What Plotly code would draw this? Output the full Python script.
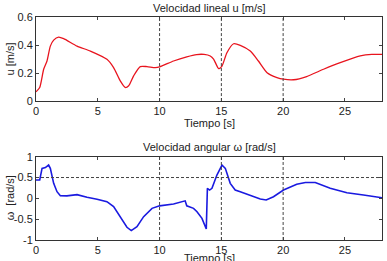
import plotly.graph_objects as go

# Linear velocity u [m/s]
t_u = [0, 0.3, 0.62, 0.89, 1.16, 1.43, 1.83, 2.24, 3.32, 4.4, 5.74, 6.28, 6.82, 7.22, 7.5, 7.9,
       8.44, 8.98, 9.65, 10.0, 11.13, 12.2, 13.0, 13.6, 14.1, 14.37, 14.78, 15.05, 15.45, 15.99,
       16.53, 17.34, 18.0, 18.7, 19.5, 20.03, 20.84, 21.9, 23.27, 24.62, 26.24, 27.18, 28.0]
u = [0.066, 0.097, 0.227, 0.286, 0.392, 0.435, 0.456, 0.445, 0.392, 0.357, 0.298, 0.239, 0.144,
     0.097, 0.109, 0.18, 0.246, 0.246, 0.239, 0.244, 0.286, 0.316, 0.332, 0.333, 0.322, 0.30,
     0.232, 0.25, 0.345, 0.409, 0.398, 0.357, 0.286, 0.203, 0.168, 0.156, 0.152, 0.175, 0.227,
     0.274, 0.322, 0.333, 0.333]

# Angular velocity w [rad/s]
t_w = [0, 0.3, 0.49, 0.76, 1.02, 1.16, 1.43, 1.7, 1.97, 2.5, 3.32, 4.13, 4.94, 5.74, 6.28, 6.82,
       7.36, 7.71, 8.17, 8.71, 9.39, 10.0, 11.13, 12.07, 12.2, 12.75, 13.03, 13.43, 13.78, 13.87,
       14.05, 14.24, 14.64, 15.05, 15.32, 15.72, 16.12, 16.53, 17.34, 18.15, 18.63, 19.22, 20.03,
       21.1, 21.8, 22.6, 23.81, 25.16, 26.5, 28.0]
w = [0.44, 0.44, 0.72, 0.74, 0.80, 0.72, 0.36, 0.16, 0.065, 0.06, 0.09, 0.025, -0.02, -0.08,
     -0.2, -0.455, -0.695, -0.775, -0.68, -0.44, -0.24, -0.18, -0.135, -0.06, -0.18, -0.24,
     -0.32, -0.48, -0.735, 0.24, 0.2, 0.24, 0.56, 0.80, 0.72, 0.36, 0.2, 0.16, 0.08, -0.015,
     -0.04, 0.04, 0.2, 0.34, 0.38, 0.38, 0.24, 0.135, 0.08, 0.015]

vlines = [10, 15, 20]
hline_w = 0.5

x_ticks = [0, 5, 10, 15, 20, 25]
u_ticks = [0, 0.2, 0.4, 0.6]
u_ticklabels = ["0", "0.2", "0.4", "0.6"]
w_ticks = [-1, -0.5, 0, 0.5, 1]
w_ticklabels = ["-1", "-0.5", "0", "0.5", "1"]

FONT = "Liberation Sans, Arial, sans-serif"

fig = go.Figure()
fig.add_trace(go.Scatter(x=t_u, y=u, mode="lines", line=dict(color="#e8141e", width=1.3,
                         shape="spline", smoothing=0.6), xaxis="x", yaxis="y", showlegend=False))
fig.add_trace(go.Scatter(x=t_w, y=w, mode="lines", line=dict(color="#1a1ae0", width=1.6),
                         xaxis="x2", yaxis="y2", showlegend=False))

axcommon = dict(showline=True, linecolor="#333", linewidth=1, mirror="allticks", ticks="inside",
                ticklen=3, tickcolor="#444", showgrid=False, zeroline=False,
                tickfont=dict(family=FONT, size=11, color="#222"))

DASH = dict(color="#444", width=1, dash="3px,2px")
shapes = []
for v in vlines:
    shapes.append(dict(type="line", xref="x", yref="y", x0=v, x1=v, y0=0, y1=0.6, line=DASH))
    shapes.append(dict(type="line", xref="x2", yref="y2", x0=v, x1=v, y0=-1, y1=1, line=DASH))
shapes.append(dict(type="line", xref="x2", yref="y2", x0=0, x1=28, y0=hline_w, y1=hline_w,
                   line=DASH))

def ann(text, x, y, rot=0):
    return dict(text=text, x=x, y=y, xref="paper", yref="paper", showarrow=False,
                textangle=rot, font=dict(family=FONT, size=11, color="#222"),
                xanchor="center", yanchor="middle")

fig.update_layout(
    width=387, height=261, margin=dict(l=36, r=5, t=17, b=21),
    paper_bgcolor="white", plot_bgcolor="white",
    xaxis=dict(domain=[0, 1], range=[0, 28], tickvals=x_ticks, anchor="y", **axcommon),
    yaxis=dict(domain=[0.623, 1.0], range=[0, 0.6], tickvals=u_ticks, ticktext=u_ticklabels,
               anchor="x", **axcommon),
    xaxis2=dict(domain=[0, 1], range=[0, 28], tickvals=x_ticks, anchor="y2", **axcommon),
    yaxis2=dict(domain=[0, 0.3735], range=[-1, 1], tickvals=w_ticks, ticktext=w_ticklabels,
                anchor="x2", **axcommon),
    shapes=shapes,
    annotations=[
        ann("Velocidad lineal u [m/s]", 0.5, 1.04),
        ann("Tiempo [s]", 0.5, 0.525),
        ann("u [m/s]", -0.075, 0.81, -90),
        ann("Velocidad angular ω [rad/s]", 0.5, 0.417),
        ann("Tiempo [s]", 0.5, -0.08),
        ann("ω  [rad/s]", -0.075, 0.187, -90),
    ],
)

fig.write_html("out.html")
